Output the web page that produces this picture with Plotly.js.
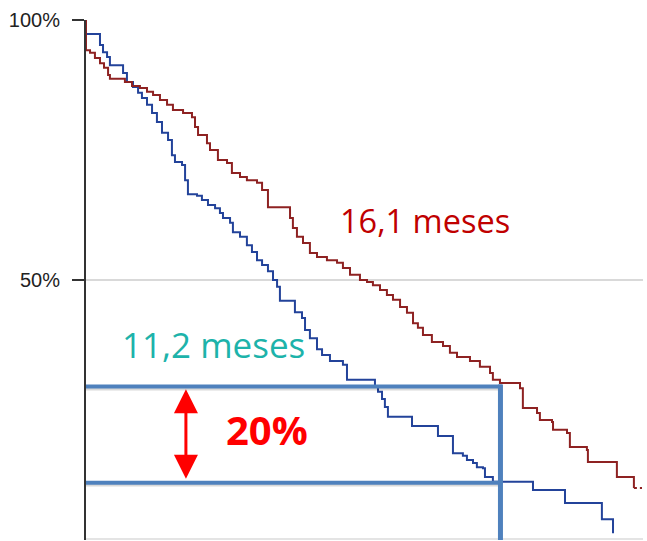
<!DOCTYPE html>
<html>
<head>
<meta charset="utf-8">
<script src="https://cdn.plot.ly/plotly-3.0.1.min.js"></script>
<style>html,body{margin:0;padding:0;background:#fff;}#chart{width:647px;height:541px;}</style>
</head>
<body>
<div id="chart"></div>
<script>
// Survival curves (months, % surviving)
const redTime = [0,0,0.24,0.53,0.83,1.07,1.31,1.42,2.31,2.73,3.20,3.62,3.98,4.39,4.81,5.16,5.76,6.29,6.47,6.65,7.18,7.36,7.83,8.37,8.66,9.14,9.55,10.15,10.45,10.80,12.11,12.28,12.52,12.88,13.29,13.71,14.30,14.90,15.25,15.67,16.26,16.68,17.03,17.45,17.86,18.22,18.64,19.05,19.41,19.70,20.00,20.53,21.19,21.60,22.02,22.79,23.38,23.98,24.15,24.57,25.76,25.93,26.77,26.94,27.66,27.72,28.55,28.72,29.73,29.79,31.51,32.52];
const redSurv = [100,94.2,93.7,92.7,91.7,90.8,89.4,88.7,88.1,87.3,86.9,86.2,85.6,84.6,83.7,82.7,82.1,81.3,79.4,77.9,76.3,75.0,73.1,72.5,70.6,69.8,69.2,68.7,67.3,64.0,61.9,60.0,58.3,57.1,55.2,54.4,53.8,53.3,52.3,51.0,50.0,49.6,49.0,48.1,47.1,46.2,44.8,43.7,41.7,40.8,39.4,38.1,37.3,36.0,35.2,34.4,33.3,32.1,30.8,30.2,29.2,25.4,24.4,23.1,22.7,21.2,20.6,17.9,17.3,15.0,12.1,10.0];
const redTailTime = [32.52, 33.0];
const redTailSurv = [10.0, 10.0];

const blueTime = [0,0,0.83,1.01,1.25,1.42,2.20,2.43,2.79,3.09,3.32,3.62,3.92,4.21,4.51,4.87,5.10,5.28,5.70,5.88,6.05,6.59,6.88,7.24,7.66,7.95,8.13,8.55,8.72,9.14,9.55,9.85,10.15,10.45,10.80,11.10,11.34,11.51,12.40,12.82,13.00,13.29,13.71,14.01,14.48,15.25,15.49,17.15,17.33,17.57,17.74,17.92,19.35,20.89,21.78,22.37,22.61,22.97,23.20,23.56,23.68,24.15,26.53,28.43,30.62,31.28];
const blueSurv = [100,97.3,95.2,93.8,92.9,91.3,89.8,88.1,87.1,86.0,85.0,83.7,82.1,80.4,78.3,76.9,74.0,72.7,72.1,69.2,66.5,66.2,65.4,64.4,63.8,62.9,61.9,61.0,59.2,58.3,56.7,55.4,53.8,52.9,51.7,50.0,48.7,46.0,43.8,42.7,40.4,38.8,36.7,35.6,34.4,33.7,30.8,29.4,28.5,27.1,25.6,23.7,21.9,20.0,16.7,16.2,15.4,14.8,14.0,13.8,12.1,11.2,9.6,7.1,4.0,1.3];

// Y axis ticks
const yTickVals = [50, 100];
const yTickText = ['50%', '100%'];

// Highlighted comparison
const bracketLevels = [29.5, 11.0];   // % survival at comparison time
const bracketTime = 24.6;             // months
const arrowTime = 5.93;
const labelRed = '16,1 meses';
const labelTeal = '11,2 meses';
const labelDiff = '20%';

const rectColor = '#4F81BD';
const shadow = 'rgba(0,0,0,0.15)';

const traces = [
  {x: blueTime, y: blueSurv, type: 'scatter', mode: 'lines', line: {shape: 'hv', color: '#23439a', width: 2}, hoverinfo: 'skip'},
  {x: redTime, y: redSurv, type: 'scatter', mode: 'lines', line: {shape: 'hv', color: '#8e2222', width: 2}, hoverinfo: 'skip'},
  {x: redTailTime, y: redTailSurv, type: 'scatter', mode: 'lines', line: {color: '#8e2222', width: 2, dash: 'dot'}, hoverinfo: 'skip'}
];

const shapes = [];
// bottom gridline at 0%
shapes.push({type: 'line', xref: 'paper', yref: 'y', x0: 0, x1: 1, y0: 0.2, y1: 0.2, line: {color: '#e4e4e4', width: 2}});
// shadows
bracketLevels.forEach(v => shapes.push({type: 'line', xref: 'x', yref: 'y', x0: -0.2, x1: bracketTime + 0.1, y0: v - 0.35, y1: v - 0.35, line: {color: shadow, width: 4}}));
// blue lines
bracketLevels.forEach(v => shapes.push({type: 'line', xref: 'x', yref: 'y', x0: -0.2, x1: bracketTime + 0.1, y0: v, y1: v, line: {color: rectColor, width: 4}}));
shapes.push({type: 'line', xref: 'x', yref: 'y', x0: bracketTime, x1: bracketTime, y0: -2, y1: bracketLevels[0] + 0.4, line: {color: rectColor, width: 5}});

const annotations = [
  {x: 20.1, y: 61.4, xref: 'x', yref: 'y', text: labelRed, showarrow: false, font: {family: 'Open Sans, sans-serif', size: 32.5, color: '#C00000'}},
  {x: 7.54, y: 37.6, xref: 'x', yref: 'y', text: labelTeal, showarrow: false, font: {family: 'Open Sans, sans-serif', size: 35, color: '#1DB3AA'}},
  {x: 10.77, y: 21.2, xref: 'x', yref: 'y', text: '<b>' + labelDiff + '</b>', showarrow: false, font: {family: 'Open Sans, sans-serif', size: 40, color: '#FF0000'}},
  {x: arrowTime, y: bracketLevels[0] - 0.5, ax: arrowTime, ay: bracketLevels[1] + 0.5, xref: 'x', yref: 'y', axref: 'x', ayref: 'y', text: '', showarrow: true, arrowhead: 2, startarrowhead: 2, arrowside: 'end+start', arrowsize: 1.6, startarrowsize: 1.6, arrowwidth: 3, arrowcolor: '#FF0000', standoff: 0, startstandoff: 0}
];

const layout = {
  width: 647, height: 541,
  margin: {l: 86, r: 4, t: 20, b: 1, pad: 0},
  paper_bgcolor: '#fff', plot_bgcolor: '#fff',
  showlegend: false,
  xaxis: {range: [0, 33.06], showgrid: false, zeroline: false, showline: false, showticklabels: false, ticks: '', fixedrange: true},
  yaxis: {range: [0, 100], tickvals: yTickVals, ticktext: yTickText, ticks: 'outside', ticklen: 12, tickwidth: 2, tickcolor: '#333',
          showline: true, linecolor: '#333', linewidth: 2, showgrid: true, gridcolor: '#d9d9d9', gridwidth: 2, zeroline: false,
          ticklabelstandoff: 8, tickfont: {family: 'Liberation Sans, Arial, sans-serif', size: 20, color: '#222'}, fixedrange: true},
  shapes: shapes,
  annotations: annotations
};

Plotly.newPlot('chart', traces, layout, {displayModeBar: false, staticPlot: true});
</script>
</body>
</html>
